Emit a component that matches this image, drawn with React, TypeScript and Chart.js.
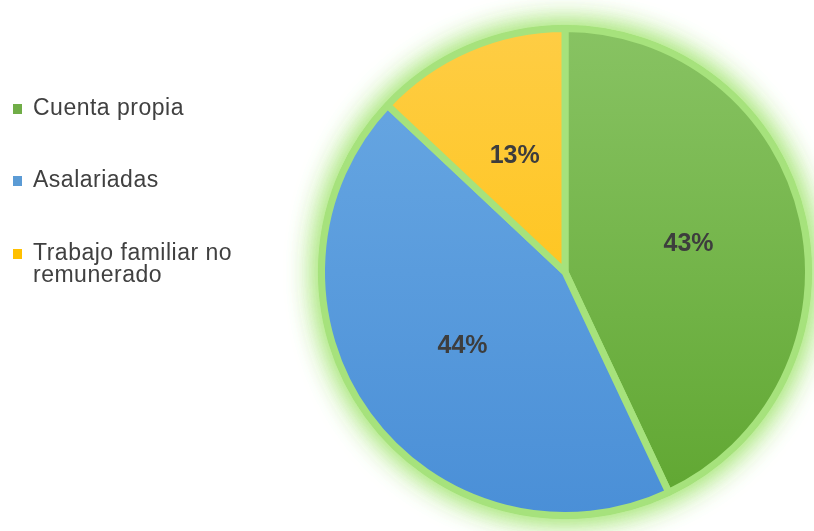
import React, { useEffect, useRef } from "react";
import { Chart, registerables } from "chart.js";

Chart.register(...registerables);

const categories = ["Cuenta propia", "Asalariadas", "Trabajo familiar no remunerado"];
const legendLines = [["Cuenta propia"], ["Asalariadas"], ["Trabajo familiar no", "remunerado"]];
const values = [43, 44, 13];
const labels = ["43%", "44%", "13%"];

const topColors = ["#88c363", "#6aa9e3", "#fecd45"];
const bottomColors = ["#5fa630", "#4a8fd7", "#ffbf00"];
const markerColors = ["#70ad47", "#5b9bd5", "#ffc000"];
const borderCol = "#a6e27c";

const glowPlugin = {
  id: "glow",
  beforeDatasetsDraw(chart: any) {
    const arc = chart.getDatasetMeta(0).data[0];
    if (!arc) return;
    const { x, y, outerRadius } = arc.getProps(["x", "y", "outerRadius"], true);
    const ctx = chart.ctx;
    ctx.save();
    ctx.shadowColor = "rgba(160, 228, 110, 0.95)";
    ctx.shadowBlur = 30;
    ctx.fillStyle = borderCol;
    ctx.beginPath();
    ctx.arc(x, y, outerRadius + 3, 0, Math.PI * 2);
    ctx.fill();
    ctx.fill();
    ctx.restore();
  },
};

const labelPlugin = {
  id: "sliceLabels",
  afterDatasetsDraw(chart: any) {
    const ctx = chart.ctx;
    const meta = chart.getDatasetMeta(0);
    ctx.save();
    ctx.font = "bold 25px 'Liberation Sans', Arial, sans-serif";
    ctx.fillStyle = "#3d3d3d";
    ctx.textAlign = "center";
    ctx.textBaseline = "middle";
    meta.data.forEach((arc: any, i: number) => {
      const { x, y, startAngle, endAngle, outerRadius } = arc.getProps(
        ["x", "y", "startAngle", "endAngle", "outerRadius"],
        true
      );
      const mid = (startAngle + endAngle) / 2;
      const r = outerRadius * 0.52;
      ctx.fillText(labels[i], x + Math.cos(mid) * r, y + Math.sin(mid) * r);
    });
    ctx.restore();
  },
};

export default function App() {
  const canvasRef = useRef<HTMLCanvasElement | null>(null);

  useEffect(() => {
    if (!canvasRef.current) return;
    const chart = new Chart(canvasRef.current, {
      type: "pie",
      data: {
        labels: categories,
        datasets: [
          {
            data: values,
            backgroundColor: (c: any) => {
              const i = c.dataIndex;
              const area = c.chart.chartArea;
              if (!area) return markerColors[i];
              const g = c.chart.ctx.createLinearGradient(0, area.top, 0, area.bottom);
              g.addColorStop(0, topColors[i]);
              g.addColorStop(1, bottomColors[i]);
              return g;
            },
            borderColor: borderCol,
            borderWidth: 7,
            hoverOffset: 0,
          },
        ],
      },
      options: {
        animation: false,
        responsive: false,
        maintainAspectRatio: false,
        layout: { padding: { left: 318, right: 2, top: 25, bottom: 12 } },
        plugins: {
          legend: { display: false },
          tooltip: { enabled: false },
        },
      },
      plugins: [glowPlugin, labelPlugin],
    });
    return () => chart.destroy();
  }, []);

  const legendTops = [96, 168, 241];

  return (
    <div style={{ position: "absolute", left: 0, top: 0, width: 814, height: 531, background: "#fff", overflow: "hidden" }}>
      <canvas ref={canvasRef} width={814} height={531} style={{ position: "absolute", left: 0, top: 0 }} />
      {legendLines.map((lines, i) => (
        <div
          key={i}
          style={{
            position: "absolute",
            left: 0,
            top: legendTops[i],
            fontFamily: "'Liberation Sans', Arial, sans-serif",
            fontSize: 23,
            lineHeight: "22px",
            letterSpacing: "0.5px",
            color: "#404040",
          }}
        >
          <span
            style={{
              position: "absolute",
              left: 13,
              top: 8,
              width: 9,
              height: 10,
              background: markerColors[i],
            }}
          />
          {lines.map((t, j) => (
            <div key={j} style={{ paddingLeft: 33, whiteSpace: "nowrap" }}>
              {t}
            </div>
          ))}
        </div>
      ))}
    </div>
  );
}
